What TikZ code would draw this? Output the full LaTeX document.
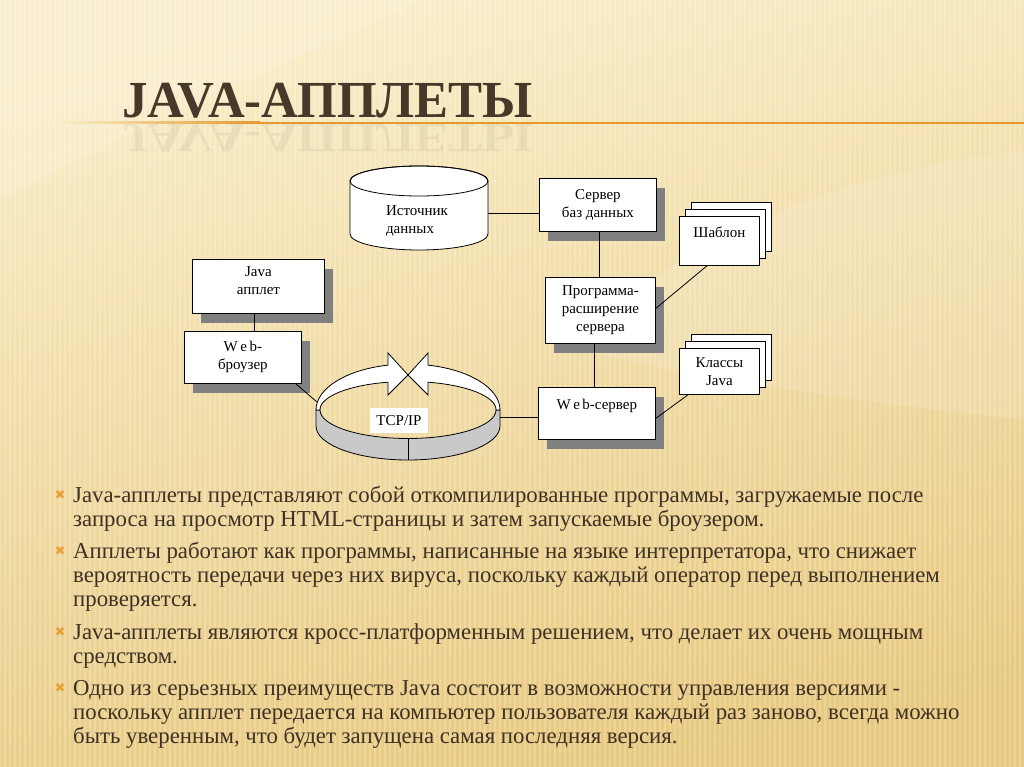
\documentclass[tikz,border=0pt]{standalone}
\usepackage{fontspec}
\setmainfont{Liberation Serif}
\newfontfamily\tnr{Liberation Serif}
\newfontfamily\dejavu{DejaVu Sans}
\usetikzlibrary{shadows}
\definecolor{bgtop}{HTML}{F9EDC8}
\definecolor{bgbot}{HTML}{E7C87E}
\definecolor{titlebrown}{HTML}{47382A}
\definecolor{textbrown}{HTML}{3E3124}
\definecolor{lineorange}{HTML}{E39A2E}
\definecolor{bulletorange}{HTML}{E8A23A}
\definecolor{shadowgray}{HTML}{808080}
\definecolor{bandgray}{HTML}{C9C9C9}
\begin{document}
\begin{tikzpicture}[x=1pt,y=-1pt,
  boxfont/.style={font=\tnr\fontsize{15}{18}\selectfont},
  diabox/.style={boxfont, draw=black, fill=white, line width=0.8pt, inner sep=0pt,
     align=center, anchor=north west, text=black,
     drop shadow={shadow xshift=9pt, shadow yshift=-10pt, fill=shadowgray, opacity=1}},
  stackbox/.style={boxfont, draw=black, fill=white, line width=0.8pt, inner sep=0pt,
     align=center, anchor=north west, minimum width=80pt, text=black},
  conn/.style={draw=black, line width=0.8pt},
  para/.style={anchor=base west, inner sep=0pt, text=textbrown,
     font=\tnr\fontsize{22.8}{24}\selectfont},
  bullet/.style={inner sep=0pt, text=bulletorange, font=\dejavu\fontsize{13}{13}\selectfont}
]
\useasboundingbox (0,0) rectangle (1024,767);
% background
\shade[top color=bgtop, bottom color=bgbot, shading angle=12] (0,0) rectangle (1024,767);
\fill[white, opacity=0.14] (0,0) -- (420,0) .. controls (300,60) and (150,120) .. (0,200) -- cycle;
\fill[white, opacity=0.12] (560,345) .. controls (700,230) and (850,170) .. (1024,150) -- (1024,420) .. controls (850,400) and (700,380) .. (560,345) -- cycle;
\foreach \i in {0,5,...,1024} {\draw[white, opacity=0.2, line width=1.6pt] (\i,0) -- (\i,767);}

% title
\node[anchor=base west, inner sep=0pt, text=titlebrown, font=\tnr\fontsize{52}{52}\selectfont\bfseries, xscale=0.98] (title) at (122,118) {JAVA-АППЛЕТЫ};
\node[anchor=base west, inner sep=0pt, text=titlebrown, opacity=0.07, font=\tnr\fontsize{52}{52}\selectfont\bfseries, xscale=0.98, yscale=-0.8] (titlerefl) at (122,125) {JAVA-АППЛЕТЫ};
\shade[left color=lineorange!0!bgtop, right color=lineorange] (62,122) rectangle (260,124);
\fill[lineorange] (260,122) rectangle (1024,124);

% cylinder
\filldraw[fill=white, line width=0.8pt] (350,181) -- (350,234) arc[start angle=180, end angle=0, x radius=69, y radius=16] -- (488,181) arc[start angle=0, end angle=-180, x radius=69, y radius=15] -- cycle;
\draw[line width=0.8pt] (419,181) ellipse [x radius=69, y radius=15];
\node[boxfont, align=left, inner sep=0pt] (src) at (417,221) {Источник\\данных};
\coordinate (cylR) at (488,213);

% boxes
\node[diabox, minimum width=117pt, minimum height=53pt] (srv) at (539,178) {Сервер\\баз данных};
\node[diabox, minimum width=110pt, minimum height=66pt] (prog) at (545,277) {Программа-\\расширение\\сервера};
\node[diabox, minimum width=117pt, minimum height=52pt] (web) at (538,387) {W\,e\,b-сервер\\~};
\node[diabox, minimum width=132pt, minimum height=54pt] (japp) at (192,259) {Java\\апплет\\[-7pt]\mbox{}};
\node[diabox, minimum width=117pt, minimum height=52pt] (brow) at (184,331) {W\,e\,b-\\броузер};

% stacks
\node[stackbox, minimum height=49pt] (shab3) at (691,202) {};
\node[stackbox, minimum height=49pt] (shab2) at (685,209) {};
\node[stackbox, minimum height=49pt] (shab1) at (679,216) {Шаблон\\~};
\node[stackbox, minimum height=46pt] (cls3) at (691,334) {};
\node[stackbox, minimum height=46pt] (cls2) at (685,341) {};
\node[stackbox, minimum height=46pt] (cls1) at (679,348) {Классы\\Java};

% ring
\filldraw[fill=bandgray, line width=0.8pt] (316,410) -- (316,426) arc[start angle=180, end angle=0, x radius=92, y radius=34] -- (500,410) -- (496,410) arc[start angle=0, end angle=180, x radius=88, y radius=28.5] -- cycle;
\draw[line width=0.8pt] (408,438.5) -- (408,460);
\filldraw[fill=white, line width=0.8pt, line join=miter] (316,410) arc[start angle=180, end angle=257.4, x radius=92, y radius=46] -- (388,353) -- (408,375) -- (388,395) -- (388,382.2) arc[start angle=256.9, end angle=180, x radius=88, y radius=28.5] -- cycle;
\filldraw[fill=white, line width=0.8pt, line join=miter] (500,410) arc[start angle=0, end angle=-77.4, x radius=92, y radius=46] -- (428,353) -- (408,375) -- (428,395) -- (428,382.2) arc[start angle=-76.9, end angle=0, x radius=88, y radius=28.5] -- cycle;
\node[boxfont, fill=white, minimum width=58pt, minimum height=25pt, inner sep=0pt] (tcp) at (399,420.5) {TCP/IP};
\coordinate (ringL) at (317,402);
\coordinate (ringR) at (500,417);

% connectors
\draw[conn] (cylR) -- (cylR -| srv.west);
\draw[conn] ([xshift=1pt]srv.south) -- ([xshift=1pt]srv.south |- prog.north);
\draw[conn] ([xshift=-3pt]web.north) -- ([xshift=-3pt]web.north |- prog.south);
\draw[conn] (ringR) -- (ringR -| web.west);
\draw[conn] ([xshift=-4pt]japp.south) -- ([xshift=-4pt]japp.south |- brow.north);
\draw[conn] ([xshift=-6pt]brow.south east) -- (ringL);
\draw[conn] ([yshift=2pt]prog.east) -- ([xshift=28pt]shab1.south west);
\draw[conn] ([yshift=-5pt]web.east) -- ([xshift=9pt]cls1.south west);

% bullets and text
\node[bullet] (b1) at (60,495) {✖};
\node[bullet] (b2) at (60,551) {✖};
\node[bullet] (b3) at (60,632) {✖};
\node[bullet] (b4) at (60,688) {✖};
\node[para] (p1) at (73,502) {\parbox[t]{950pt}{\raggedright Java-апплеты представляют собой откомпилированные программы, загружаемые после\\запроса на просмотр HTML-страницы и затем запускаемые броузером.}};
\node[para] (p2) at (73,558) {\parbox[t]{950pt}{\raggedright Апплеты работают как программы, написанные на языке интерпретатора, что снижает\\вероятность передачи через них вируса, поскольку каждый оператор перед выполнением\\проверяется.}};
\node[para] (p3) at (73,639) {\parbox[t]{950pt}{\raggedright Java-апплеты являются кросс-платформенным решением, что делает их очень мощным\\средством.}};
\node[para] (p4) at (73,695) {\parbox[t]{950pt}{\raggedright Одно из серьезных преимуществ Java состоит в возможности управления версиями -\\поскольку апплет передается на компьютер пользователя каждый раз заново, всегда можно\\быть уверенным, что будет запущена самая последняя версия.}};
\end{tikzpicture}
\end{document}
